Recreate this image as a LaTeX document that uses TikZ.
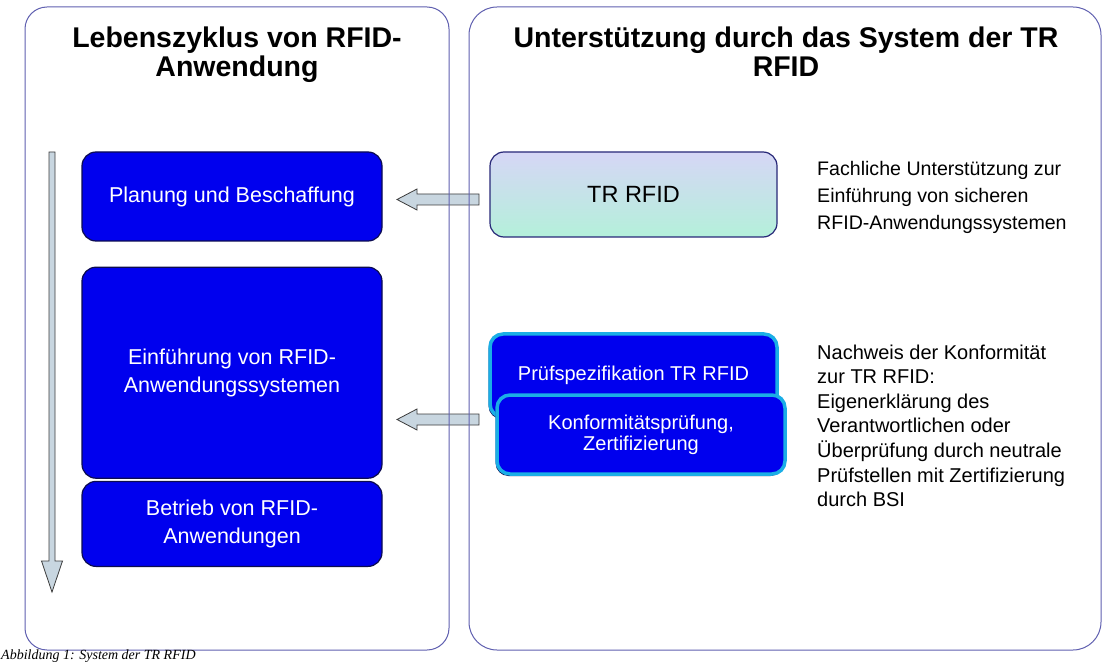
\documentclass[tikz,border=0pt]{standalone}
\usepackage{fontspec}
\setmainfont{Liberation Sans}
\newfontfamily\capfont{Liberation Serif}
\usepackage{tikz}
\usetikzlibrary{positioning,calc,shadows}

\definecolor{panelblue}{RGB}{96,96,176}
\definecolor{phaseblue}{RGB}{0,0,238}
\definecolor{phasenavy}{RGB}{12,12,80}
\definecolor{trnavy}{RGB}{40,40,120}
\definecolor{trtop}{RGB}{214,214,246}
\definecolor{trbottom}{RGB}{180,240,218}
\definecolor{proofcyan}{RGB}{26,174,230}
\definecolor{arrfill}{RGB}{200,214,224}
\definecolor{arrgray}{RGB}{60,60,60}

\begin{document}
\begin{tikzpicture}[
  x=1pt, y=-1pt,
  panel/.style={draw=panelblue, line width=1pt},
  headline/.style={font=\fontsize{28.5}{29}\selectfont\bfseries, align=center,
                   inner sep=0pt, anchor=north},
  phase/.style={draw=phasenavy, line width=1.2pt, fill=phaseblue, rounded corners=14pt,
                text=white, minimum width=300pt, align=center,
                font=\fontsize{21.5}{27.5}\selectfont},
  trbox/.style={draw=trnavy, line width=1.2pt, rounded corners=14pt, top color=trtop,
                bottom color=trbottom, minimum width=287pt, minimum height=85pt,
                font=\fontsize{23.5}{26}\selectfont},
  proof/.style={draw=proofcyan, line width=3.5pt, fill=phaseblue, rounded corners=13pt,
                text=white, align=center, font=\fontsize{20}{21}\selectfont,
                drop shadow={shadow xshift=-1.5pt, shadow yshift=-2pt, fill=phasenavy, opacity=1}},
  note/.style={align=left, anchor=north west, inner sep=0pt,
               font=\fontsize{19.6}{27}\selectfont},
  fatarr/.style={draw=arrgray, line width=0.8pt, fill=arrfill},
  node distance=25pt
]
\fill[white] (0,0) rectangle (1104,663);
\useasboundingbox (0,0) rectangle (1104,663);
\clip (0,0) rectangle (1104,663);

%% Block arrows (under the panel frames)
\coordinate (ls) at (52,152);
\coordinate (le) at (52,592);
\draw[fatarr] ($(ls)+(-3,0)$) -- ($(le)+(-3,-31)$) -- ($(le)+(-10.5,-31)$) -- (le)
  -- ($(le)+(10.5,-31)$) -- ($(le)+(3,-31)$) -- ($(ls)+(3,0)$) -- cycle;

\coordinate (a1s) at (479,199.5);
\coordinate (a1e) at (397,199.5);
\coordinate (a2s) at (479,419.5);
\coordinate (a2e) at (397,419.5);
\foreach \s/\e in {a1s/a1e,a2s/a2e}
  \draw[fatarr] ($(\s)+(0,-5.5)$) -- ($(\e)+(20,-5.5)$) -- ($(\e)+(20,-10.5)$) -- (\e)
    -- ($(\e)+(20,10.5)$) -- ($(\e)+(20,5.5)$) -- ($(\s)+(0,5.5)$) -- cycle;

%% Panels
\draw[panel, rounded corners=22pt] (25,7) rectangle (449,650);
\draw[panel, rounded corners=28pt] (469,7) rectangle (1101,650);

\node[headline] (ltitle) at (237,26.5) {Lebenszyklus von RFID-\\Anwendung};
\node[headline] (rtitle) at (786,26.5) {Unterstützung durch das System der TR\\RFID};

%% Life cycle (left)
\node[phase, minimum height=89pt] (plan) at (232,196.5) {Planung und Beschaffung};
\node[phase, minimum height=211pt, below=25pt of plan] (einf)
  {Einführung von RFID-\\Anwendungssystemen};
\node[phase, minimum height=85pt, below=2pt of einf] (betr)
  {Betrieb von RFID-\\Anwendungen};

%% Support (right)
\node[trbox] (tr) at (633.5,194.5) {TR RFID};
\node[proof, minimum width=287pt, minimum height=83pt] (pruef) at (633.5,375.5)
  {Prüfspezifikation TR RFID};
\node[proof, minimum width=288pt, minimum height=79pt] (konf) at (641,434.5)
  {Konformitätsprüfung,\\Zertifizierung};

\node[note] (fach) at (817,161)
  {Fachliche Unterstützung zur\\Einführung von sicheren\\RFID-Anwendungssystemen};
\node[note, font=\fontsize{20}{24.6}\selectfont] (nachw) at (817,344.5)
  {Nachweis der Konformität\\zur TR RFID:\\Eigenerklärung des\\Verantwortlichen oder\\%
   Überprüfung durch neutrale\\Prüfstellen mit Zertifizierung\\durch BSI};

%% Caption
\node[font=\capfont\itshape\fontsize{14}{15}\selectfont, anchor=base west, inner sep=0pt]
  (caption) at (1,659.5) {Abbildung 1: System der TR RFID};
\end{tikzpicture}
\end{document}
